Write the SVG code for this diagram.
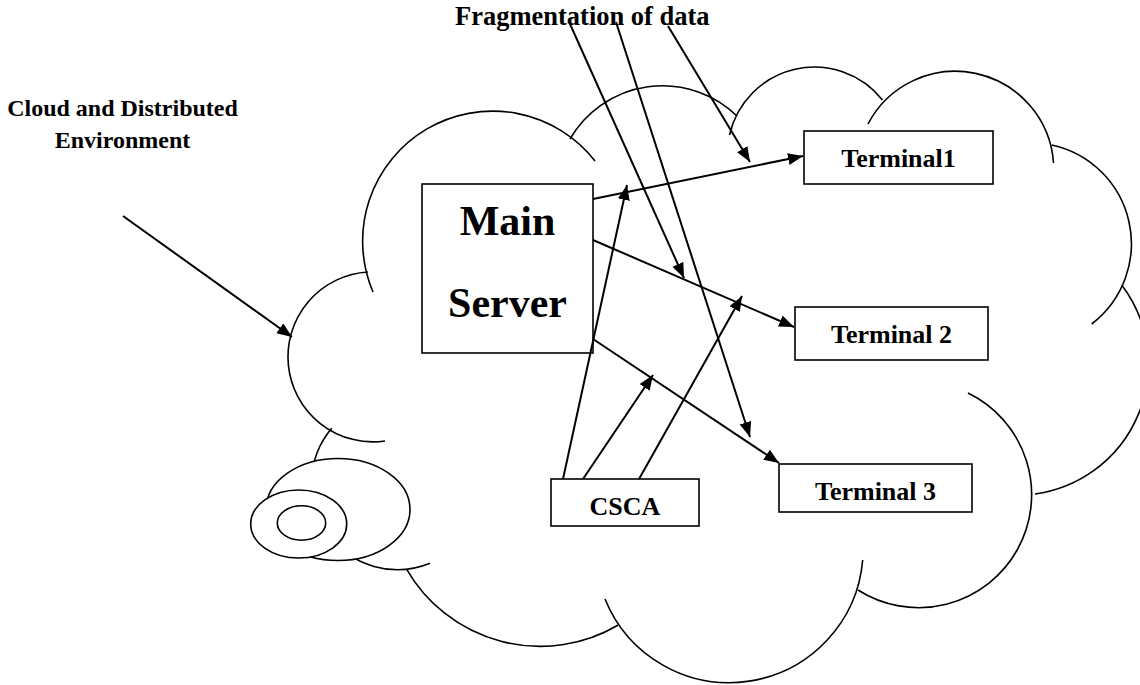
<svg xmlns="http://www.w3.org/2000/svg" width="1140" height="685" viewBox="0 0 1140 685">
<style>
.cloud{fill:none;stroke:#000;stroke-width:1.6}
.ell{fill:#fff;stroke:#000;stroke-width:1.6}
.box{fill:#fff;stroke:#000;stroke-width:1.6}
.con{stroke:#000;stroke-width:2;fill:none;marker-end:url(#ah)}
.t{font-family:"Liberation Serif","Times New Roman",serif;font-weight:bold;fill:#000;text-anchor:middle}
</style>
<defs>
<marker id="ah" markerUnits="userSpaceOnUse" markerWidth="16" markerHeight="13" refX="15" refY="6" orient="auto">
<path d="M0,0 L15,6 L0,12 z" fill="#000"/>
</marker>
</defs>
<rect width="1140" height="685" fill="#fff"/>
<g id="cloud">
<path class="cloud" d="M368,272 A85,85 0 1 0 385,441"/>
<path class="cloud" d="M373,292 A130,130 0 0 1 595,161"/>
<path class="cloud" d="M570,139 A107,107 0 0 1 737,116"/>
<path class="cloud" d="M729.5,135 A87,87 0 0 1 882.5,100"/>
<path class="cloud" d="M868,124 A98.5,98.5 0 0 1 1053.5,163"/>
<path class="cloud" d="M1051.7,145 A101,101 0 0 1 1091.7,324"/>
<path class="cloud" d="M1121.7,285 A131,131 0 0 1 1035,494"/>
<path class="cloud" d="M968,393 A113,113 0 1 1 858,590"/>
<path class="cloud" d="M605,599 A134,134 0 0 0 862.7,560"/>
<path class="cloud" d="M406.7,569.3 A154,154 0 0 0 618.3,625"/>
<path class="cloud" d="M331.7,428.3 A86,86 0 0 0 430,563.3"/>
<ellipse class="ell" cx="338" cy="509.5" rx="72" ry="51"/>
<ellipse class="ell" cx="298.7" cy="524" rx="48" ry="34"/>
<ellipse class="ell" cx="301.5" cy="523" rx="24.2" ry="17.2"/>
</g>
<g id="label-fragmentation">
<text class="t" x="582.3" y="25" font-size="26.5">Fragmentation of data</text>
</g>
<g id="label-cloud">
<text class="t" x="122.5" y="116" font-size="24">Cloud and Distributed</text>
<text class="t" x="122.5" y="148" font-size="24">Environment</text>
</g>
<g id="main-server">
<rect class="box" x="422" y="184" width="171" height="169"/>
<text class="t" x="507.5" y="235" font-size="42">Main</text>
<text class="t" x="507.5" y="317" font-size="42">Server</text>
</g>
<g id="terminal1">
<rect class="box" x="804" y="131" width="189" height="53"/>
<text class="t" x="898.5" y="167" font-size="26">Terminal1</text>
</g>
<g id="terminal2">
<rect class="box" x="795" y="307" width="193" height="53"/>
<text class="t" x="891.5" y="343" font-size="26">Terminal 2</text>
</g>
<g id="terminal3">
<rect class="box" x="779" y="464" width="193" height="48"/>
<text class="t" x="875.5" y="500" font-size="26">Terminal 3</text>
</g>
<g id="csca">
<rect class="box" x="551" y="479" width="148" height="47"/>
<text class="t" x="625" y="515" font-size="26">CSCA</text>
</g>
<g id="connectors">
<path class="con" d="M123,216 L292,337"/>
<path class="con" d="M593,199 L803,156"/>
<path class="con" d="M593,240 L794,327"/>
<path class="con" d="M593,339 L779,463"/>
<path class="con" d="M563,479 L627,185"/>
<path class="con" d="M583,479 L653,375"/>
<path class="con" d="M639,479 L742,296"/>
<path class="con" d="M570,24 L684,278"/>
<path class="con" d="M616,22 L750,437"/>
<path class="con" d="M668,26 L750,162"/>
</g>
</svg>
